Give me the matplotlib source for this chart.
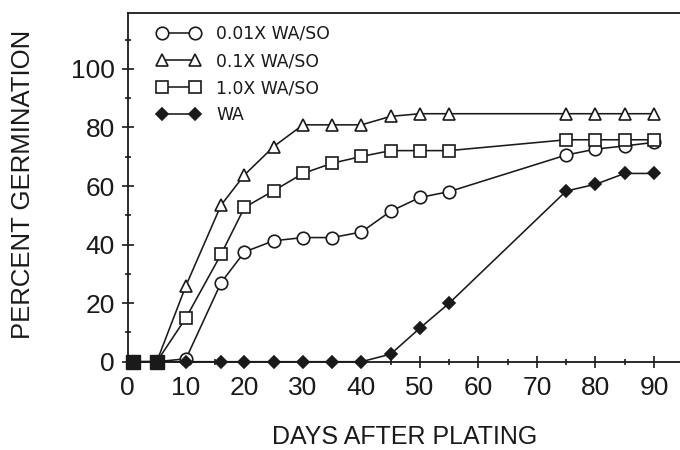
import matplotlib
matplotlib.use("Agg")
import matplotlib.pyplot as plt
from matplotlib.ticker import FixedLocator

# ---- data ----
days = [1, 5, 10, 16, 20, 25, 30, 35, 40, 45, 50, 55, 75, 80, 85, 90]
s001 = [0, 0, 1, 27, 37.5, 41.3, 42.4, 42.4, 44.3, 51.4, 56.1, 58.1, 70.6, 72.6, 73.7, 74.9]
s01 = [0, 0, 26, 53.5, 63.8, 73.5, 80.9, 80.9, 80.9, 83.8, 84.7, 84.7, 84.7, 84.7, 84.7, 84.7]
s10 = [0, 0, 15, 36.7, 52.7, 58.4, 64.3, 67.8, 70.1, 72.1, 72.1, 72.1, 75.8, 75.8, 75.8, 75.8]
wa = [0, 0, 0, 0, 0, 0, 0, 0, 0, 2.6, 11.5, 20.0, 58.3, 60.6, 64.3, 64.3]
labels = ["0.01X WA/SO", "0.1X WA/SO", "1.0X WA/SO", "WA"]
xticks = [0, 10, 20, 30, 40, 50, 60, 70, 80, 90]
yticks = [0, 20, 40, 60, 80, 100]

ink = "#1a1a1a"

fig = plt.figure(figsize=(6.8, 4.5), dpi=100)
ax = fig.add_axes([127.5 / 680, (450 - 361.7) / 450, 552.5 / 680, 348.4 / 450])

common = dict(color=ink, lw=1.15, mew=1.2, clip_on=False)
l1, = ax.plot(days, s001, marker="o", ms=9, mfc="white", mec=ink, label=labels[0], zorder=3, **common)
l2, = ax.plot(days, s01, marker="^", ms=9.3, mfc="white", mec=ink, label=labels[1], zorder=3, **common)
l3, = ax.plot(days, s10, marker="s", ms=8.6, mfc="white", mec=ink, label=labels[2], zorder=3, **common)
l4, = ax.plot(days, wa, marker="D", ms=6.5, mfc=ink, mec=ink, label=labels[3], zorder=4, **common)
# overlapping markers at the first two days print as a solid block
ax.plot(days[:2], wa[:2], ls="none", marker="s", ms=9.5, mfc=ink, mec=ink, clip_on=False, zorder=5)

ax.set_xlim(0, 94.45)
ax.set_ylim(0, 119)

ax.spines["right"].set_visible(False)
for s in ("left", "top", "bottom"):
    ax.spines[s].set_linewidth(1.3)
    ax.spines[s].set_color(ink)

ax.xaxis.set_major_locator(FixedLocator(xticks))
ax.xaxis.set_minor_locator(FixedLocator([5, 15, 25, 35, 45, 55, 65, 75, 85]))
ax.yaxis.set_major_locator(FixedLocator(yticks))
ax.yaxis.set_minor_locator(FixedLocator([10, 30, 50, 70, 90, 110]))
ax.set_xticklabels([str(v) for v in xticks])
ax.set_yticklabels([str(v) for v in yticks])

ax.tick_params(which="major", direction="inout", length=9, width=1.2, color=ink,
               labelsize=19, pad=4.5, labelcolor=ink)
ax.tick_params(axis="x", which="major", pad=6)
ax.tick_params(which="minor", direction="inout", length=5, width=1.2, color=ink)
for lab in ax.get_xticklabels() + ax.get_yticklabels():
    lab.set_fontfamily("Liberation Sans")

fig.text(405 / 680, 1 - 444 / 450, "DAYS AFTER PLATING", ha="center", va="baseline",
         fontsize=18, family="Liberation Sans", color=ink)
fig.text(23.5 / 680, 1 - 184.5 / 450, "PERCENT GERMINATION", ha="center", va="center",
         rotation=90, fontsize=18.5, family="Liberation Sans", color=ink)

leg = ax.legend(handles=[l1, l2, l3, l4], loc="upper left",
                bbox_to_anchor=((156.7 - 127.5) / 552.5, (361.7 - 25.0) / 348.4),
                borderaxespad=0, borderpad=0, frameon=False, numpoints=2,
                handlelength=2.5, handletextpad=0.95, labelspacing=0.53,
                prop={"family": "DejaVu Sans", "size": 12.4})
for t in leg.get_texts():
    t.set_color(ink)

fig.savefig("out.png", dpi=100)
